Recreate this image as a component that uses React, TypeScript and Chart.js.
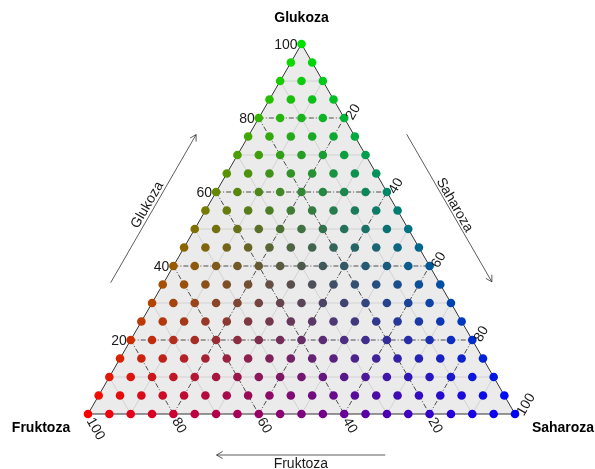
import React, { useEffect, useRef } from 'react';
import { Chart, registerables } from 'chart.js';

Chart.register(...registerables);

// composition levels (percent) used for every component
const levels = [0, 5, 10, 15, 20, 25, 30, 35, 40, 45, 50, 55, 60, 65, 70, 75, 80, 85, 90, 95, 100];
const tickValues = [20, 40, 60, 80, 100];
const gridLevels = [10, 20, 30, 40, 50, 60, 70, 80, 90];
const topTitle = 'Glukoza';
const leftTitle = 'Fruktoza';
const rightTitle = 'Saharoza';

// every composition on the 5 % lattice (Glukoza, Saharoza, Fruktoza sum to 100)
const glukoza: number[] = [];
const saharoza: number[] = [];
const fruktoza: number[] = [];
for (const g of levels) {
  for (const s of levels) {
    if (g + s <= 100) {
      glukoza.push(g);
      saharoza.push(s);
      fruktoza.push(100 - g - s);
    }
  }
}

const FONT = '"Liberation Sans", Arial, sans-serif';

function toXY(f: number, g: number, s: number) {
  return { x: (s + g / 2) / 100, y: g / 100 };
}

function drawArrow(ctx: CanvasRenderingContext2D, x1: number, y1: number, x2: number, y2: number) {
  const ang = Math.atan2(y2 - y1, x2 - x1);
  const len = 7;
  const a = Math.PI / 6;
  ctx.beginPath();
  ctx.moveTo(x1, y1);
  ctx.lineTo(x2, y2);
  ctx.stroke();
  ctx.beginPath();
  ctx.moveTo(x2 - len * Math.cos(ang - a), y2 - len * Math.sin(ang - a));
  ctx.lineTo(x2, y2);
  ctx.lineTo(x2 - len * Math.cos(ang + a), y2 - len * Math.sin(ang + a));
  ctx.stroke();
}

const ternaryPlugin = {
  id: 'ternary',
  beforeDatasetsDraw(chart: any) {
    const ctx: CanvasRenderingContext2D = chart.ctx;
    const xs = chart.scales.x;
    const ys = chart.scales.y;
    const P = (f: number, g: number, s: number) => {
      const p = toXY(f, g, s);
      return [xs.getPixelForValue(p.x), ys.getPixelForValue(p.y)];
    };
    const T = P(0, 100, 0);
    const L = P(100, 0, 0);
    const R = P(0, 0, 100);
    ctx.save();
    ctx.beginPath();
    ctx.moveTo(T[0], T[1]);
    ctx.lineTo(L[0], L[1]);
    ctx.lineTo(R[0], R[1]);
    ctx.closePath();
    ctx.fillStyle = '#EBEBEB';
    ctx.fill();

    const line = (a: number[], b: number[]) => {
      ctx.beginPath();
      ctx.moveTo(a[0], a[1]);
      ctx.lineTo(b[0], b[1]);
      ctx.stroke();
    };
    for (const major of [false, true]) {
      for (const v of gridLevels) {
        if ((v % 20 === 0) !== major) continue;
        if (major) {
          ctx.strokeStyle = '#262626';
          ctx.lineWidth = 0.8;
          ctx.setLineDash([5, 2, 1, 2]);
        } else {
          ctx.strokeStyle = '#CFCFCF';
          ctx.lineWidth = 0.9;
          ctx.setLineDash([]);
        }
        line(P(100 - v, v, 0), P(0, v, 100 - v));
        line(P(100 - v, 0, v), P(0, 100 - v, v));
        line(P(v, 100 - v, 0), P(v, 0, 100 - v));
      }
    }
    ctx.setLineDash([]);
    ctx.strokeStyle = '#333333';
    ctx.lineWidth = 1;
    ctx.beginPath();
    ctx.moveTo(T[0], T[1]);
    ctx.lineTo(L[0], L[1]);
    ctx.lineTo(R[0], R[1]);
    ctx.closePath();
    ctx.stroke();
    ctx.restore();
  },
  afterDraw(chart: any) {
    const ctx: CanvasRenderingContext2D = chart.ctx;
    const xs = chart.scales.x;
    const ys = chart.scales.y;
    const P = (f: number, g: number, s: number) => {
      const p = toXY(f, g, s);
      return [xs.getPixelForValue(p.x), ys.getPixelForValue(p.y)];
    };
    ctx.save();
    ctx.fillStyle = '#1a1a1a';
    ctx.font = `14px ${FONT}`;
    // Glukoza ticks (left edge)
    ctx.textAlign = 'right';
    ctx.textBaseline = 'middle';
    for (const v of tickValues) {
      const p = P(100 - v, v, 0);
      ctx.fillText(String(v), p[0] - 4, p[1] + 1);
    }
    // Saharoza ticks (right edge)
    for (const v of tickValues) {
      const p = P(0, 100 - v, v);
      ctx.save();
      ctx.translate(p[0], p[1]);
      ctx.rotate(-Math.PI / 3);
      ctx.textAlign = 'left';
      ctx.textBaseline = 'middle';
      ctx.fillText(String(v), 2, 5);
      ctx.restore();
    }
    // Fruktoza ticks (bottom edge)
    for (const v of tickValues) {
      const p = P(v, 0, 100 - v);
      ctx.save();
      ctx.translate(p[0], p[1]);
      ctx.rotate(Math.PI / 3);
      ctx.textAlign = 'left';
      ctx.textBaseline = 'middle';
      ctx.fillText(String(v), 5, 1);
      ctx.restore();
    }

    // vertex titles
    const T = P(0, 100, 0);
    const Lp = P(100, 0, 0);
    const Rp = P(0, 0, 100);
    ctx.fillStyle = '#000000';
    ctx.font = `bold 14px ${FONT}`;
    ctx.textAlign = 'center';
    ctx.textBaseline = 'middle';
    ctx.fillText(topTitle, T[0], T[1] - 26);
    ctx.fillText(leftTitle, Lp[0] - 47, Lp[1] + 14);
    ctx.fillText(rightTitle, Rp[0] + 48, Rp[1] + 14);

    // arrows
    ctx.strokeStyle = '#333333';
    ctx.lineWidth = 0.8;
    ctx.fillStyle = '#1a1a1a';
    ctx.font = `14px ${FONT}`;
    const lerp = (a: number[], b: number[], t: number) => [a[0] + (b[0] - a[0]) * t, a[1] + (b[1] - a[1]) * t];
    const off = 46;
    // left arrow (Glukoza), parallel to left edge, pointing up
    {
      const nx = -Math.sin(Math.PI / 3), ny = -Math.cos(Math.PI / 3);
      const a = lerp(T, Lp, 0.707);
      const b = lerp(T, Lp, 0.307);
      drawArrow(ctx, a[0] + nx * off, a[1] + ny * off, b[0] + nx * off, b[1] + ny * off);
      const mx = (a[0] + b[0]) / 2 + nx * (off + 7);
      const my = (a[1] + b[1]) / 2 + ny * (off + 7);
      ctx.save();
      ctx.translate(mx, my);
      ctx.rotate(-Math.PI / 3);
      ctx.textAlign = 'center';
      ctx.textBaseline = 'middle';
      ctx.fillText(topTitle, 0, 0);
      ctx.restore();
    }
    // right arrow (Saharoza), pointing down
    {
      const nx = Math.sin(Math.PI / 3), ny = -Math.cos(Math.PI / 3);
      const a = lerp(T, Rp, 0.306);
      const b = lerp(T, Rp, 0.705);
      drawArrow(ctx, a[0] + nx * off, a[1] + ny * off, b[0] + nx * off, b[1] + ny * off);
      const mx = (a[0] + b[0]) / 2 + nx * (off + 6);
      const my = (a[1] + b[1]) / 2 + ny * (off + 6);
      ctx.save();
      ctx.translate(mx, my);
      ctx.rotate(Math.PI / 3);
      ctx.textAlign = 'center';
      ctx.textBaseline = 'middle';
      ctx.fillText(rightTitle, 0, 0);
      ctx.restore();
    }
    // bottom arrow (Fruktoza), pointing left
    {
      const a = lerp(Rp, Lp, 0.304);
      const b = lerp(Rp, Lp, 0.699);
      const y = a[1] + 41;
      drawArrow(ctx, a[0], y, b[0], y);
      ctx.textAlign = 'center';
      ctx.textBaseline = 'middle';
      ctx.fillText(leftTitle, (a[0] + b[0]) / 2, y + 9);
    }
    ctx.restore();
  },
};

export default function App() {
  const canvasRef = useRef<HTMLCanvasElement | null>(null);

  useEffect(() => {
    const canvas = canvasRef.current;
    if (!canvas) return;
    const points = glukoza.map((g, i) => toXY(fruktoza[i], g, saharoza[i]));
    const colors = glukoza.map(
      (g, i) =>
        `rgb(${Math.round(fruktoza[i] * 2.55)}, ${Math.round(g * 2.25)}, ${Math.round(saharoza[i] * 2.55)})`
    );
    const chart = new Chart(canvas, {
      type: 'scatter',
      data: {
        datasets: [
          {
            data: points,
            pointBackgroundColor: colors,
            pointBorderWidth: 0,
            pointBorderColor: colors,
            pointRadius: 4.3,
            pointHoverRadius: 4.3,
            clip: false,
          } as any,
        ],
      },
      options: {
        responsive: false,
        animation: false,
        events: [],
        layout: { padding: { left: 88, right: 80, top: 44, bottom: 55 } },
        scales: {
          x: { type: 'linear', min: 0, max: 1, display: false },
          y: { type: 'linear', min: 0, max: 1, display: false },
        },
        plugins: { legend: { display: false }, tooltip: { enabled: false } },
      },
      plugins: [ternaryPlugin],
    });
    return () => chart.destroy();
  }, []);

  return (
    <div style={{ position: 'absolute', left: 0, top: 0, width: 595, height: 469, background: '#ffffff' }}>
      <canvas ref={canvasRef} width={595} height={469} style={{ display: 'block' }} />
    </div>
  );
}
